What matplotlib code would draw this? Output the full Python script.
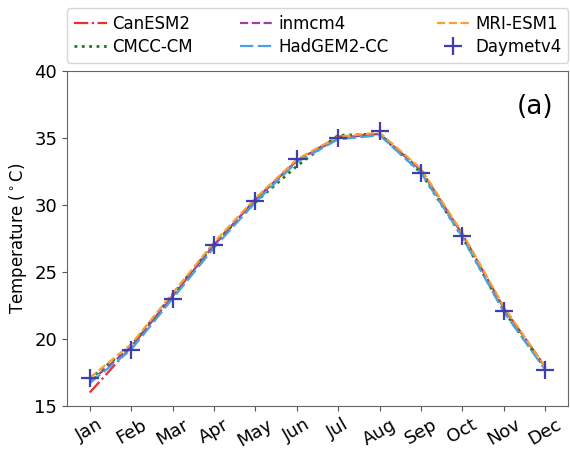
import numpy as np
import matplotlib.pyplot as plt

months = ['Jan', 'Feb', 'Mar', 'Apr', 'May', 'Jun',
          'Jul', 'Aug', 'Sep', 'Oct', 'Nov', 'Dec']

# monthly mean max temperature (deg C)
canesm2 = [16.0, 19.4, 23.2, 27.0, 30.4, 33.3, 35.1, 35.3, 32.6, 27.8, 22.3, 17.9]
cmcc_cm = [17.0, 19.5, 23.3, 27.1, 30.2, 32.9, 35.2, 35.3, 32.4, 27.6, 22.1, 17.8]
inmcm4 = [16.8, 19.4, 23.2, 27.0, 30.4, 33.3, 35.0, 35.3, 32.6, 27.8, 22.3, 17.9]
hadgem2 = [16.7, 19.2, 23.0, 26.8, 30.2, 33.2, 34.9, 35.2, 32.4, 27.6, 22.0, 17.7]
mri_esm1 = [17.1, 19.6, 23.4, 27.2, 30.5, 33.4, 35.1, 35.4, 32.7, 27.9, 22.4, 17.9]
daymet = [17.1, 19.2, 23.0, 27.0, 30.3, 33.4, 35.0, 35.5, 32.4, 27.7, 22.1, 17.7]

x = np.arange(len(months))

fig = plt.figure(figsize=(5.7, 4.51), dpi=100)
ax = fig.add_axes([0.1175, 0.1, 0.879, 0.7426])

ax.plot(x, canesm2, color='#e8312b', ls='-.', lw=1.6, label='CanESM2')
ax.plot(x, cmcc_cm, color='#1f7a1f', ls=':', lw=2.0, label='CMCC-CM')
ax.plot(x, inmcm4, color='#9b3fa6', ls='--', lw=1.6, label='inmcm4')
ax.plot(x, hadgem2, color='#4aa3df', ls=(0, (6, 2)), lw=1.6, label='HadGEM2-CC')
ax.plot(x, mri_esm1, color='#f5a233', ls='--', lw=1.6, label='MRI-ESM1')
ax.plot(x, daymet, color='#3d3fb0', ls='none', marker='+', ms=13, mew=1.6,
        label='Daymetv4')

ax.set_ylim(15, 40)
ax.set_yticks([15, 20, 25, 30, 35, 40])
ax.set_xticks(x)
ax.set_xticklabels(months, rotation=30)
ax.tick_params(labelsize=13, color='#555555')
for s in ax.spines.values():
    s.set_color('#666666')
ax.set_ylabel(r'Temperature ($^\circ$C)', fontsize=12)
ax.text(0.97, 0.93, '(a)', transform=ax.transAxes, fontsize=19,
        ha='right', va='top')

ax.legend(loc='lower left', bbox_to_anchor=(0, 1.025, 1, 0.2), mode='expand',
          ncol=3, fontsize=12, handlelength=2.0, handletextpad=0.3,
          borderaxespad=0, labelspacing=0.3, borderpad=0.4)

fig.savefig('out.png', dpi=100)
